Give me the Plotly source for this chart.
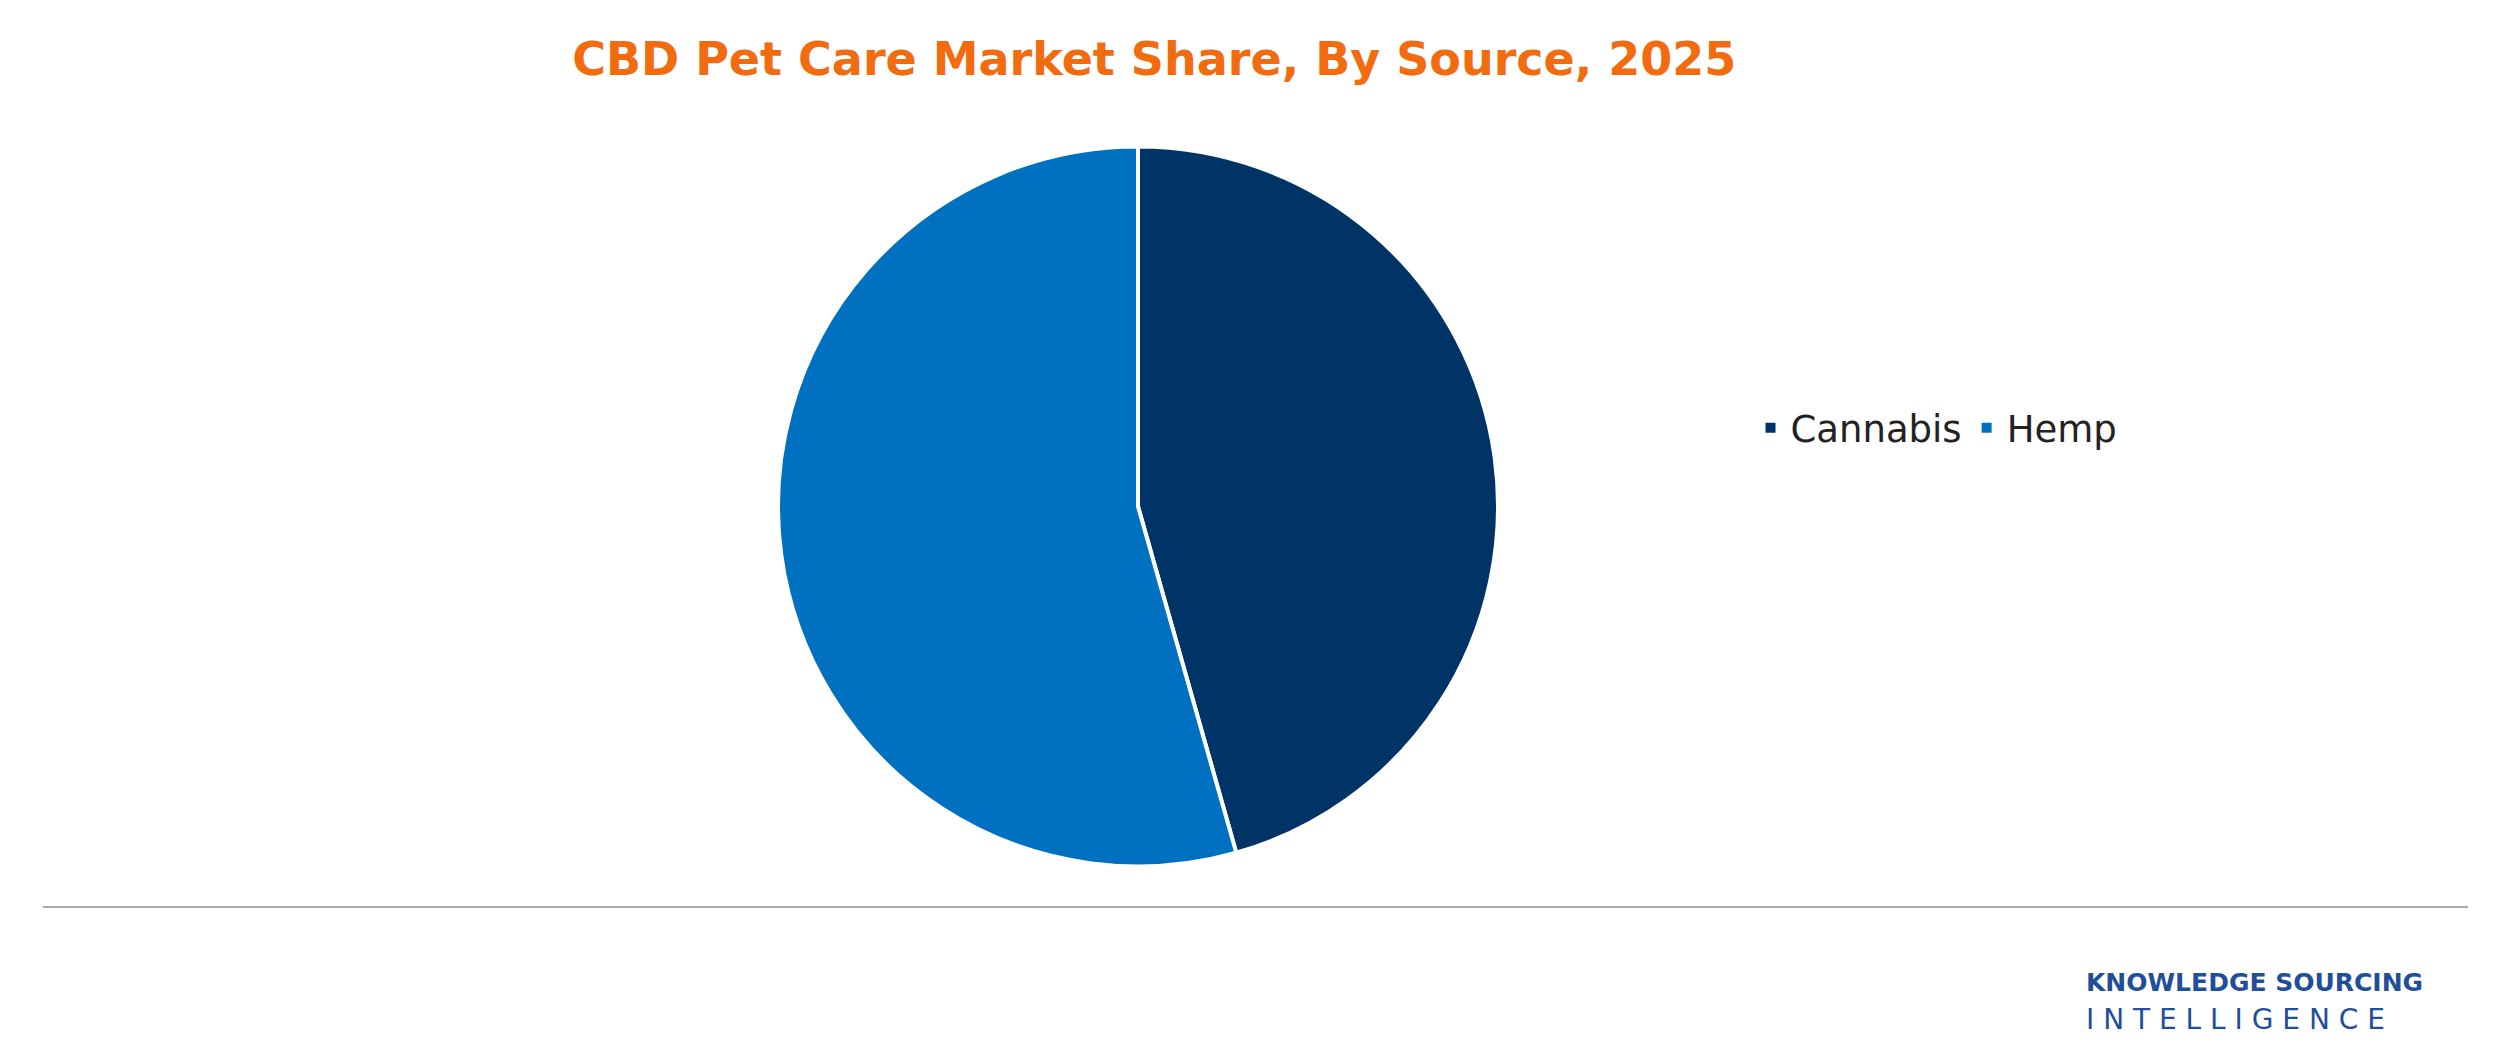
import plotly.graph_objects as go

sources = ["Cannabis", "Hemp"]
shares = [45.6, 54.4]
colors = ["#003366", "#0070C0"]

fig = go.Figure(go.Pie(
    labels=sources, values=shares, sort=False, direction="clockwise", rotation=0,
    marker=dict(colors=colors, line=dict(color="white", width=4)),
    textinfo="none", hoverinfo="label+percent",
    domain=dict(x=[0.308, 0.596], y=[0.187, 0.869]),
))

line_y = 1 - 899 / 1056
fig.update_layout(
    width=2500, height=1056,
    margin=dict(l=0, r=0, t=0, b=0),
    paper_bgcolor="white", plot_bgcolor="white",
    title=dict(text="<b>CBD Pet Care Market Share, By Source, 2025</b>",
               x=0.4585, xanchor="center", y=0.9515, yanchor="middle",
               font=dict(family="DejaVu Sans", size=46, color="#F26B0F")),
    legend=dict(orientation="h", x=0.697, y=0.602, xanchor="left", yanchor="middle",
                font=dict(family="DejaVu Sans", size=37, color="#222"),
                itemsizing="constant"),
    shapes=[dict(type="line", xref="paper", yref="paper", x0=0.014, x1=0.984,
                 y0=line_y, y1=line_y, line=dict(color="#AAAAAA", width=2))],
    annotations=[
        dict(text="<b>KNOWLEDGE SOURCING</b>", x=0.8305, y=0.077, xref="paper", yref="paper",
             xanchor="left", yanchor="middle", showarrow=False,
             font=dict(family="DejaVu Sans", size=25, color="#1F4E9A")),
        dict(text="I N T E L L I G E N C E", x=0.8305, y=0.042, xref="paper", yref="paper",
             xanchor="left", yanchor="middle", showarrow=False,
             font=dict(family="DejaVu Sans", size=28, color="#1F4E9A")),
    ],
)
fig.write_html("out.html")
